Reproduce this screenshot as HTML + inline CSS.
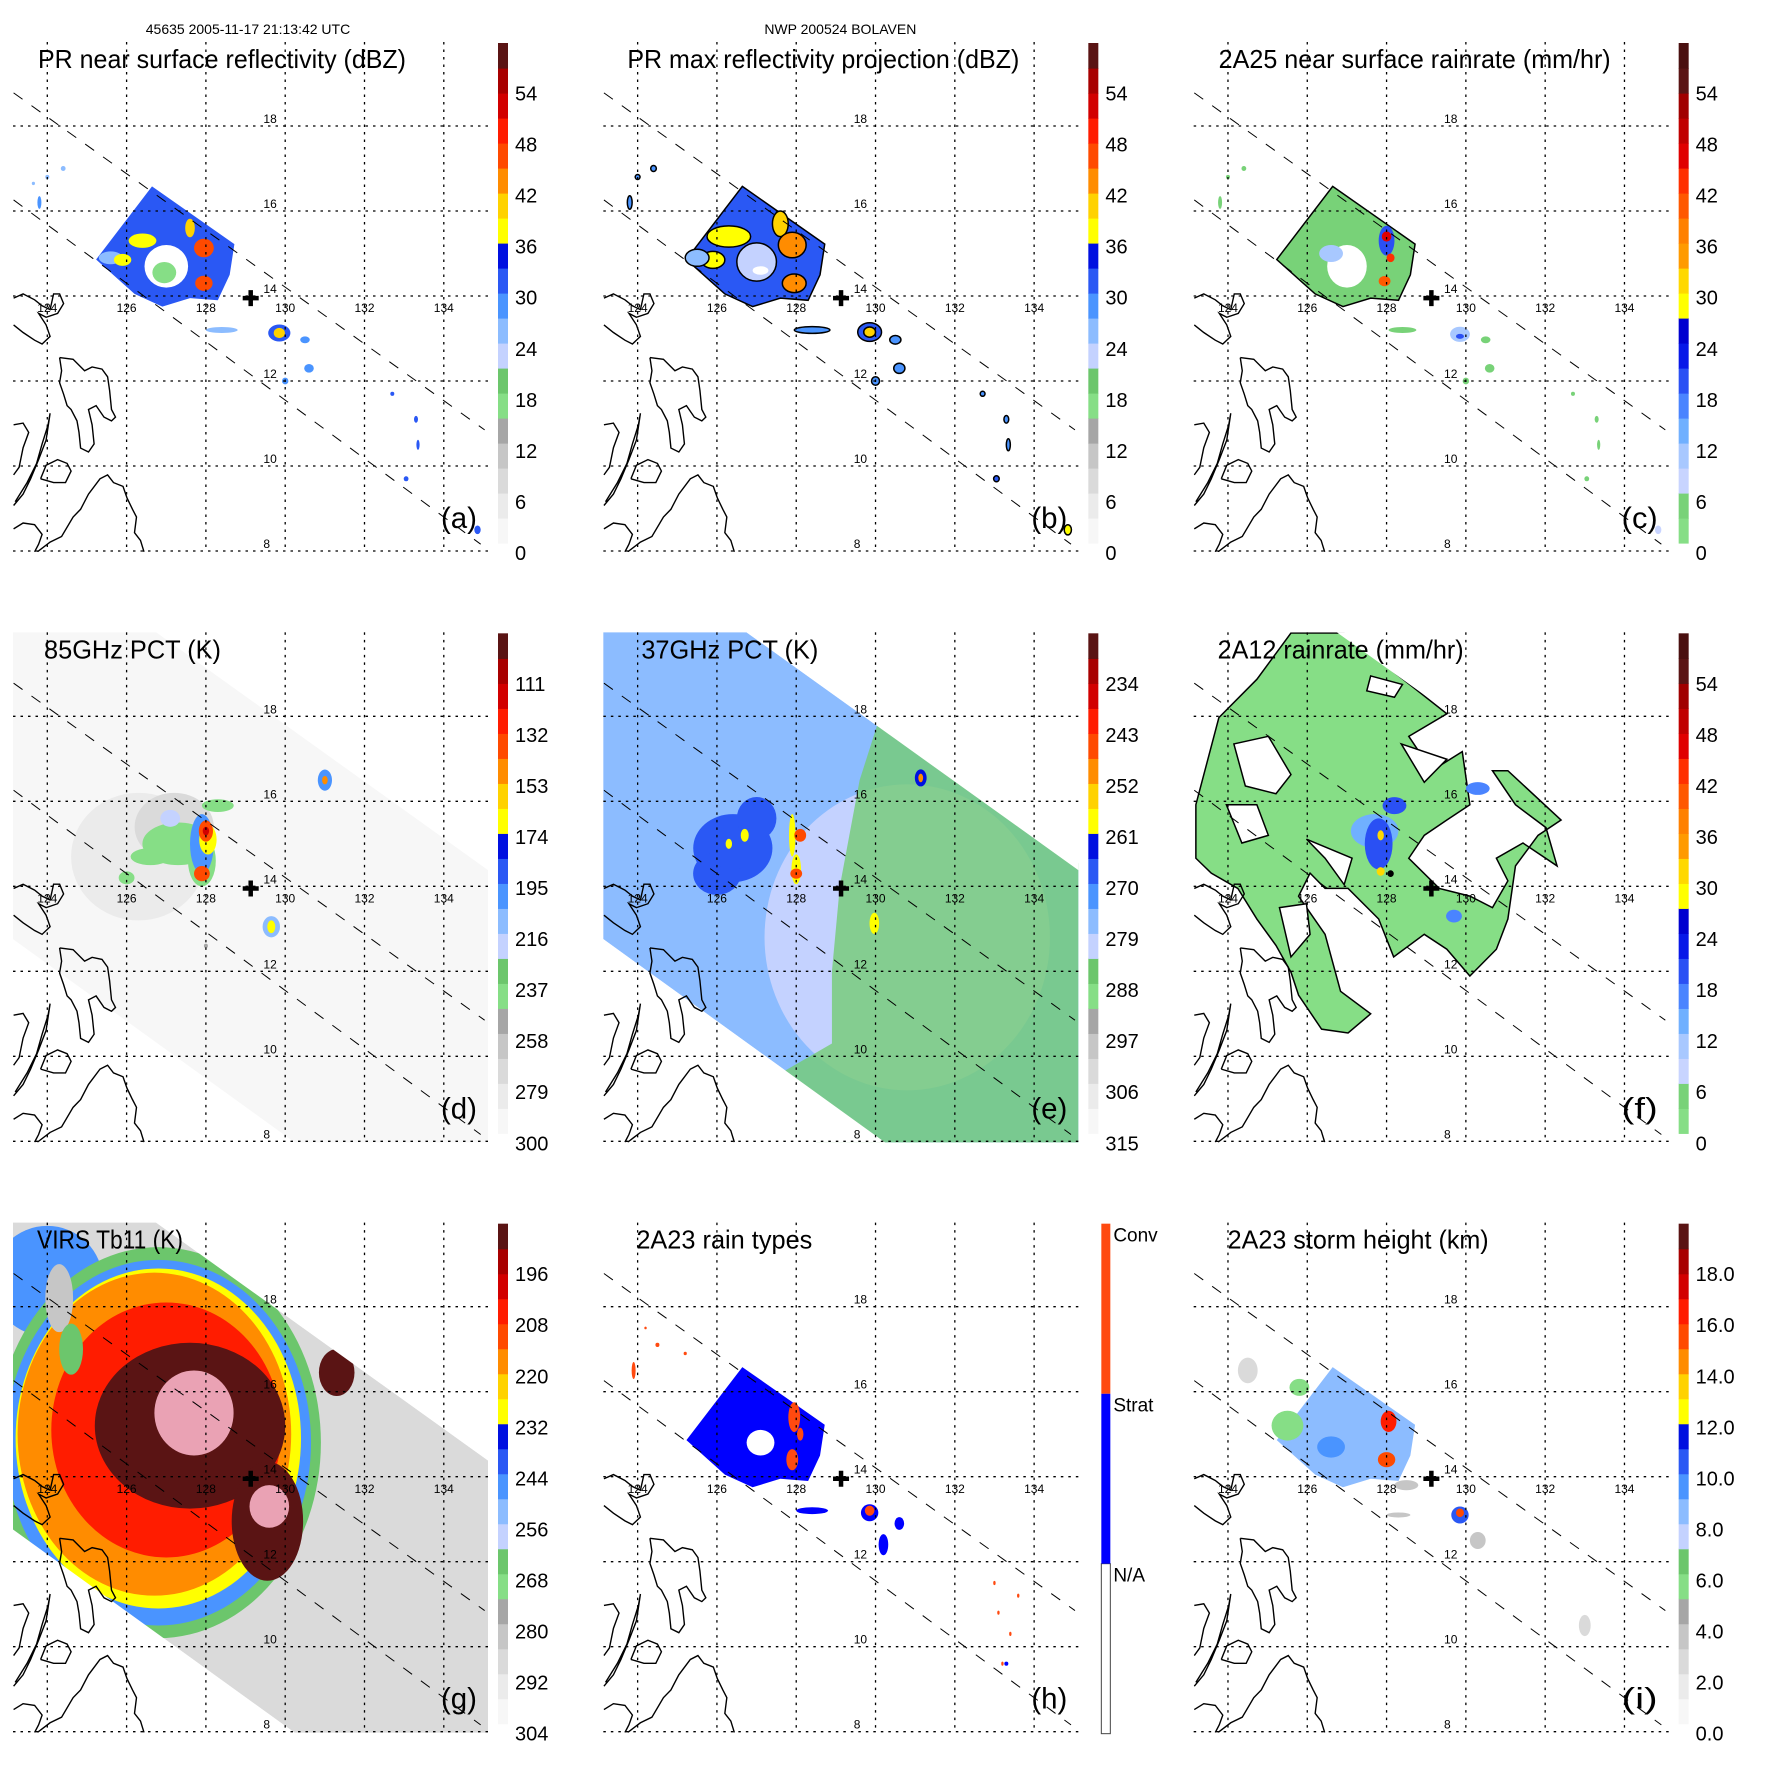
<!DOCTYPE html>
<html><head><meta charset="utf-8"><style>
html,body{margin:0;padding:0;background:#fff}
svg{display:block}
text{font-family:"Liberation Sans",sans-serif}
</style></head><body>
<svg id="fig" xmlns="http://www.w3.org/2000/svg" width="1771" height="1771" viewBox="0 0 1771 1771">
<rect width="1771" height="1771" fill="#fff"/>
</svg>
<script>
// ---------- shared data ----------
const stdColors=["#f7f7f7","#ebebeb","#dadada","#c6c6c6","#a6a6a6","#86de86","#6cc66c","#c4d2ff","#8cbcff","#4a94ff","#2a58f4","#0010e0","#ffff00","#ffd200","#ff8c00","#ff4a00","#ff1c00","#d20000","#a80000","#5a1414"];
const rainColors=["#86de86","#78d278","#c8d4ff","#a8c8ff","#70b0ff","#4a84ff","#2a50f4","#0818e8","#0000d0","#ffff00","#ffd800","#ff9a00","#ff8000","#ff5800","#ff3000","#e00000","#c00000","#a00000","#5a1414","#4a1010"];
const lonTicks=[124,126,128,130,132,134];
const latTicks=[18,16,14,12,10,8];
const stripLon=[126.64,128.72,128.6,128.3,127.6,126.9,126.2,125.23];
const stripLat=[16.58,15.22,14.5,13.9,13.95,13.75,14.05,14.86];
const swathLon=[123.0,126.74,135.3,135.3,130.5,123.0];
const swathLat=[20.1,19.98,14.26,7.8,7.8,12.85];
const edgeLon=[[123.15,135.03],[123.15,134.93]];
const edgeLat=[[18.78,10.85],[16.26,8.16]];
const centerLon=129.13, centerLat=13.95;
const coastLon=[
[123.15,123.39,123.68,123.87,124.07,124.16,124.31,124.41,124.26,123.97,123.78,123.97,124.07,123.87,123.68,123.39,123.15],
[124.31,124.65,124.94,125.13,125.38,125.52,125.57,125.62,125.72,125.62,125.43,125.23,125.04,125.13,125.18,125.04,124.84,124.80,124.75,124.60,124.50,124.41,124.31,124.36,124.31],
[123.83,123.97,124.26,124.50,124.60,124.46,124.16,123.83],
[123.15,123.39,123.53,123.39,123.29,123.15],
[123.19,123.49,123.73,123.87,124.02,124.07,123.97,123.78,123.58,123.39,123.15],
[123.15,123.39,123.68,123.87,123.78,123.68],
[123.75,124.07,124.36,124.65,124.84,125.04,125.33,125.52,125.67,125.91,126.01,126.15,126.25,126.20,126.35,126.44]];
const coastLat=[
[13.95,14.05,13.91,13.77,13.68,14.05,14.05,13.82,13.59,13.50,13.59,13.32,13.05,12.87,12.96,13.14,13.32],
[12.55,12.51,12.24,12.33,12.28,12.10,11.78,11.33,11.15,11.06,11.15,11.42,11.33,10.97,10.52,10.33,10.42,10.79,11.06,11.33,11.42,11.69,11.96,12.24,12.55],
[9.70,10.02,10.15,10.06,9.88,9.61,9.61,9.70],
[10.97,11.01,10.79,10.43,9.97,9.79],
[9.16,9.61,10.06,10.52,10.97,11.24,10.61,10.15,9.70,9.34,9.07],
[8.52,8.66,8.62,8.39,8.16,7.98],
[7.98,8.21,8.34,8.80,8.98,9.34,9.70,9.79,9.61,9.52,9.25,8.98,8.80,8.43,8.25,7.98]];

// panel a: PR near-surface reflectivity (dBZ)
const aLon=[127.0,126.95,125.6,126.4,125.9,127.6,127.95,127.95,128.4,129.85,129.85,130.5,130.6,130.0,132.7,133.3,133.35,133.05,134.85,123.8,124.4,124.0,123.65];
const aLat=[14.7,14.55,14.9,15.3,14.85,15.6,15.13,14.3,13.2,13.13,13.13,12.97,12.3,12.0,11.7,11.1,10.5,9.7,8.5,16.2,17.0,16.8,16.65];
const aRx=[.55,.3,.3,.35,.22,.12,.25,.22,.4,.28,.14,.12,.12,.08,.05,.05,.04,.06,.08,.05,.06,.05,.04];
const aRy=[.5,.25,.15,.17,.14,.22,.22,.18,.07,.2,.12,.08,.1,.08,.05,.08,.12,.06,.1,.15,.06,.05,.04];
const aVal=[-1,16,24,37,37,41,47,46,26,31,41,28,28,27,30,30,30,31,32,28,24,24,24];
// panel b: PR max reflectivity (dBZ)
const bLon=[127.0,126.3,125.9,127.6,127.9,127.95,125.5,128.4,129.85,129.85,130.5,130.6,130.0,132.7,133.3,133.35,133.05,134.85,123.8,124.4,124.0,127.1];
const bLat=[14.8,15.4,14.85,15.7,15.2,14.3,14.9,13.2,13.15,13.15,12.97,12.3,12.0,11.7,11.1,10.5,9.7,8.5,16.2,17.0,16.8,14.6];
const bRx=[.5,.55,.3,.2,.35,.3,.3,.45,.3,.15,.14,.14,.1,.06,.06,.05,.07,.09,.06,.07,.06,.2];
const bRy=[.45,.25,.2,.3,.3,.22,.2,.08,.22,.12,.1,.12,.1,.06,.09,.14,.07,.12,.16,.07,.06,.1];
const bVal=[22,38,38,40,44,44,26,27,30,40,28,28,27,28,28,28,30,36,28,27,27,-1];
// panel c: 2A25 near surface rain rate (mm/hr)
const cLon=[127.0,126.6,128.0,128.0,128.1,127.95,128.4,129.85,129.85,130.5,130.6,130.0,132.7,133.3,133.35,133.05,134.85,123.8,124.4,124.0];
const cLat=[14.7,15.0,15.3,15.4,14.9,14.35,13.2,13.1,13.05,12.97,12.3,12.0,11.7,11.1,10.5,9.7,8.5,16.2,17.0,16.8];
const cRx=[.5,.3,.2,.12,.1,.15,.35,.25,.1,.12,.12,.08,.05,.05,.04,.06,.08,.05,.06,.05];
const cRy=[.5,.2,.35,.12,.1,.12,.07,.18,.06,.08,.1,.08,.05,.08,.12,.06,.1,.15,.06,.05];
const cVal=[-1,9,20,45,42,40,3,10,18,3,3,3,3,3,3,3,8,3,3,3];
// panel d: 85 GHz PCT (K)
const dLon=[126.3,127.2,127.3,127.9,128.3,126.6,126.0,127.9,127.1,128.05,128.0,127.9,128.0,131.0,131.0,129.65,129.65,128.0];
const dLat=[14.7,15.4,15.0,14.6,15.9,14.7,14.2,15.0,15.6,15.1,15.3,14.3,15.3,16.5,16.5,13.05,13.05,12.6];
const dRx=[1.7,1.0,.9,.35,.4,.5,.2,.3,.25,.22,.18,.2,.08,.18,.07,.22,.1,.05];
const dRy=[1.5,.8,.5,.6,.15,.2,.15,.7,.2,.35,.25,.18,.1,.25,.1,.25,.15,.05];
const dVal=[280,270,240,240,240,240,240,205,220,172,140,140,120,205,150,210,165,250];
// panel e: 37 GHz PCT (K)
const eLon=[130.8,126.4,127.0,126.0,126.4,127.9,128.0,126.7,126.3,128.1,128.0,129.97,131.14,131.14];
const eLat=[12.8,14.9,15.6,14.3,14.9,15.2,14.4,15.2,15.0,15.2,14.3,13.13,16.55,16.55];
const eRx=[3.6,1.0,.5,.6,.6,.08,.12,.1,.08,.15,.15,.12,.15,.06];
const eRy=[3.6,.8,.5,.5,.5,.5,.35,.15,.12,.15,.12,.25,.2,.1];
const eVal=[281,269,269,270,266,258,258,259,259,246,246,258,262,248];
const eGreenLon=[130.25,129.6,129.1,128.9,128.9,127.6,128.6,135.3,135.3];
const eGreenLat=[18.4,16.5,14.0,12.0,10.3,9.6,7.8,7.8,14.4];
// panel f: 2A12 rain rate (mm/hr)
const fLon=[123.19,123.77,124.73,125.59,126.93,129.52,128.56,129.14,129.91,130.10,129.52,128.95,128.56,129.33,130.10,130.67,131.06,130.77,131.44,132.30,132.02,131.25,130.67,131.06,132.40,131.82,131.25,131.06,130.77,130.10,129.52,128.95,128.18,127.80,127.03,126.45,126.07,125.78,126.45,126.84,127.60,127.03,126.36,125.78,125.59,125.21,124.73,124.25,123.58,123.19];
const fLat=[15.92,17.97,18.87,19.96,19.96,18.06,17.53,16.72,17.17,15.92,15.56,15.20,14.66,13.95,13.77,13.50,14.13,14.66,15.02,14.48,15.38,15.92,16.72,16.72,15.56,15.20,14.48,13.23,12.52,11.89,12.52,12.87,12.34,13.23,13.95,13.95,14.31,13.77,12.87,11.53,11.00,10.55,10.64,11.44,11.98,12.61,13.23,13.95,14.31,14.66];
const fHoleLon=[[124.15,125.02,125.59,125.21,124.44],[125.98,127.13,126.93,126.45],[128.37,129.52,128.95],[123.96,124.73,125.02,124.35],[125.30,125.98,126.07,125.59],[127.6,128.4,128.2,127.5]];
const fHoleLat=[[17.35,17.53,16.63,16.18,16.36],[15.11,14.66,14.04,14.66],[17.35,16.99,16.45],[15.92,15.92,15.20,15.02],[13.50,13.59,12.87,12.34],[18.95,18.75,18.45,18.6]];
const fLon2=[127.7,127.8,128.2,127.85,127.85,130.3,129.7,128.1];
const fLat2=[15.3,15.0,15.9,15.2,14.35,16.3,13.3,14.3];
const fRx=[.6,.35,.3,.08,.1,.3,.2,.08];
const fRy=[.4,.6,.2,.12,.1,.15,.15,.08];
const fVal=[12,20,20,31,31,15,15,99];
// panel g: VIRS Tb11 (K)
const gLon=[124.0,126.8,126.8,126.8,126.7,127.0,127.6,127.7,129.55,129.6,131.3,124.3,124.6];
const gLat=[18.6,14.8,14.8,14.9,15.0,15.1,15.2,15.5,12.95,13.3,16.45,18.2,17.0];
const gRx=[1.4,4.1,3.85,3.6,3.45,2.9,2.4,1.0,.9,.5,.45,.35,.3];
const gRy=[1.3,4.6,4.3,4.0,3.8,3.0,1.95,1.0,1.4,.5,.55,.8,.6];
const gVal=[250,266,248,231,220,205,190,150,190,150,190,285,268];
// panel h: 2A23 rain type (1 strat, 2 conv, 0 none)
const hLon=[127.1,127.95,127.9,128.1,128.4,129.85,129.85,123.9,124.5,124.2,125.2,133.0,133.1,133.4,133.6,133.2,133.3,130.2,130.6];
const hLat=[14.8,15.4,14.4,15.0,13.2,13.15,13.2,16.5,17.1,17.5,16.9,11.5,10.8,10.3,11.2,9.6,9.6,12.4,12.9];
const hRx=[.35,.15,.15,.08,.4,.22,.12,.05,.05,.03,.04,.03,.03,.03,.03,.03,.05,.12,.12];
const hRy=[.3,.35,.25,.15,.08,.2,.12,.2,.05,.03,.04,.05,.05,.05,.05,.05,.05,.25,.15];
const hVal=[0,2,2,2,1,1,2,2,2,2,2,2,2,2,2,2,1,1,1];
// panel i: 2A23 storm height (km)
const iLon=[124.5,128.5,128.3,130.3,125.5,125.8,126.6,128.05,128.0,129.85,129.85,133.0];
const iLat=[16.5,13.8,13.1,12.5,15.2,16.1,14.7,15.3,14.4,13.1,13.15,10.5];
const iRx=[.25,.3,.3,.2,.4,.25,.35,.2,.22,.22,.1,.15];
const iRy=[.3,.12,.06,.2,.35,.2,.25,.25,.18,.2,.1,.25];
const iVal=[2,3,3,3,5.8,5.8,9.8,16,15.5,10.5,15,2];

// colorbar tick labels
const dbzTicks=["0","6","12","18","24","30","36","42","48","54"];
const dTicks=["300","279","258","237","216","195","174","153","132","111"];
const eTicks=["315","306","297","288","279","270","261","252","243","234"];
const gTicks=["304","292","280","268","256","244","232","220","208","196"];
const iTicks=["0.0","2.0","4.0","6.0","8.0","10.0","12.0","14.0","16.0","18.0"];
const typeLabels=["N/A","Strat","Conv"];
const typeColors=["#ffffff","#0000ff","#ff4a10"];
</script>
<script>
const NS="http://www.w3.org/2000/svg";
const fig=document.getElementById('fig');
const CELL=1771/3;
const MX0=13,MX1=488,MY0=42,MY1=552;
function X(lon){return 47.3+(lon-124)*39.65;}
function Y(lat){return 126+(18-lat)*42.5;}
function el(tag,attrs,parent){const e=document.createElementNS(NS,tag);for(const k in attrs)e.setAttribute(k,attrs[k]);(parent||fig).appendChild(e);return e;}
function stdC(v){if(v>=60)return "#eaa2b4";let i=Math.floor(v/3);if(i<0)i=0;if(i>19)i=19;return stdColors[i];}
function rainC(v){if(v>=60)return "#000";let i=Math.floor(v/3);if(i<0)i=0;if(i>19)i=19;return rainColors[i];}
function pts(lons,lats){return lons.map((l,i)=>X(l).toFixed(1)+","+Y(lats[i]).toFixed(1)).join(" ");}

function panel(idx,title,tlen,tx,letter){
  const col=idx%3,row=Math.floor(idx/3);
  const g=el('g',{transform:`translate(${(col*CELL).toFixed(2)},${(row*CELL).toFixed(2)})`});
  
  
  const cp=el('clipPath',{id:'clip'+idx},g);
  el('rect',{x:MX0,y:MY0,width:MX1-MX0,height:MY1-MY0},cp);
  const map=el('g',{'clip-path':`url(#clip${idx})`},g);
  
  
  return {g,map,letter,title,tlen,tx};
}
function ell(parent,lon,lat,rx,ry,fill,stroke){
  const e=el('ellipse',{cx:X(lon).toFixed(1),cy:Y(lat).toFixed(1),rx:(rx*39.65).toFixed(1),ry:(ry*42.5).toFixed(1),fill:fill},parent);
  if(stroke){e.setAttribute('stroke',stroke);e.setAttribute('stroke-width','1.5');}
  
  
  return e;
}
function overlay(P,cross){
  const {g,map}=P;
  coastLon.forEach((cl,k)=>{
    const p=el('polyline',{points:pts(cl,coastLat[k]),fill:'none',stroke:'#000','stroke-width':'1.4'},map);
    
    
  });
  edgeLon.forEach((e,k)=>{
    const l=el('line',{x1:X(e[0]),y1:Y(edgeLat[k][0]),x2:X(e[1]),y2:Y(edgeLat[k][1]),stroke:'#000','stroke-width':'1','stroke-dasharray':'11,11'},map);
    
    
  });
  latTicks.forEach(lat=>{
    const l=el('line',{x1:MX0,x2:MX1,y1:Y(lat),y2:Y(lat),stroke:'#000','stroke-width':'1.3','stroke-dasharray':'2.5,5'},g);
    
    
    const t=el('text',{x:X(129.45),y:Y(lat)-3,'font-size':'12'},g);t.textContent=lat;
    
    
  });
  lonTicks.forEach(lon=>{
    const l=el('line',{x1:X(lon),x2:X(lon),y1:MY0,y2:MY1,stroke:'#000','stroke-width':'1.3','stroke-dasharray':'2.5,5'},g);
    
    
    const t=el('text',{x:X(lon),y:Y(13.62),'font-size':'12','text-anchor':'middle'},g);t.textContent=lon;
    
    
  });
  if(cross!==false){
    const cx=X(centerLon),cy=Y(centerLat);
    const c=el('path',{d:`M${cx-8},${cy}H${cx+8}M${cx},${cy-8}V${cy+8}`,stroke:'#000','stroke-width':'4.5'},g);
    
    
  }
  const t=el('text',{x:P.tx,y:68,'font-size':'26',textLength:P.tlen,lengthAdjust:'spacingAndGlyphs'},g);
  t.textContent=P.title;
  
  
  const L=el('text',{x:441,y:528,'font-size':'30',textLength:'36',lengthAdjust:'spacingAndGlyphs'},g);
  L.textContent='('+P.letter+')';
  
  
}
function colorbar(P,colors,ticks){
  const {g}=P;
  const top=43,bot=543,bx=498,bw=10,n=colors.length,h=(bot-top)/n;
  const cb=el('g',{},g);
  
  
  colors.forEach((c,i)=>{el('rect',{x:bx,y:(bot-(i+1)*h).toFixed(2),width:bw,height:(h+0.6).toFixed(2),fill:c},cb);});
  ticks.forEach((lab,i)=>{
    const v=i*6;
    const t=el('text',{x:515,y:(553-v*8.51+7).toFixed(1),'font-size':'20'},cb);
    t.textContent=lab;
    
    
  });
}
function ellipses(P,lons,lats,rxs,rys,vals,colorFn,stroke){
  lons.forEach((lon,i)=>{
    const v=vals[i];
    const fill=v<0?'#fff':colorFn(v);
    ell(P.map,lon,lats[i],rxs[i],rys[i],fill,stroke&&v>=0?stroke:null);
  });
}
function strip(P,fill,stroke){
  const p=el('polygon',{points:pts(stripLon,stripLat),fill:fill},P.map);
  if(stroke){p.setAttribute('stroke',stroke);p.setAttribute('stroke-width','1.5');}
  
  
}
function swath(P,fill){
  const p=el('polygon',{points:pts(swathLon,swathLat),fill:fill},P.map);
  
  
}
function mask(P){
  const m=el('path',{d:`M0,0H600V600H0Z M${pts(swathLon,swathLat).split(' ').join(' L')}Z`,fill:'#fff','fill-rule':'evenodd'},P.map);
  
  
}

let h1=el('text',{x:248,y:34,'font-size':'14','text-anchor':'middle'});h1.textContent='45635 2005-11-17 21:13:42 UTC';


let h2=el('text',{x:CELL+250,y:34,'font-size':'14','text-anchor':'middle'});h2.textContent='NWP 200524 BOLAVEN';



// (a)
let A=panel(0,'PR near surface reflectivity (dBZ)',368,38,'a');
strip(A,stdC(31));
ellipses(A,aLon,aLat,aRx,aRy,aVal,stdC);
overlay(A);colorbar(A,stdColors,dbzTicks);
// (b)
let B=panel(1,'PR max reflectivity projection (dBZ)',392,37,'b');
strip(B,stdC(31),'#000');
ellipses(B,bLon,bLat,bRx,bRy,bVal,stdC,'#000');
overlay(B);colorbar(B,stdColors,dbzTicks);
// (c)
let C=panel(2,'2A25 near surface rainrate (mm/hr)',392,38,'c');
strip(C,rainC(3),'#000');
ellipses(C,cLon,cLat,cRx,cRy,cVal,rainC,null);
overlay(C);colorbar(C,rainColors,dbzTicks);
// (d)
let D=panel(3,'85GHz PCT (K)',177,44,'d');
swath(D,stdC((300-291)/3.5));
ellipses(D,dLon,dLat,dRx,dRy,dVal.map(k=>(300-k)/3.5),stdC,null);
overlay(D);colorbar(D,stdColors,dTicks);
// (e)
let E=panel(4,'37GHz PCT (K)',177,51,'e');
swath(E,stdC((315-278)/1.5));
ellipses(E,eLon.slice(0,1),eLat.slice(0,1),eRx.slice(0,1),eRy.slice(0,1),eVal.slice(0,1).map(k=>(315-k)/1.5),stdC,null);
{const p=el('polygon',{points:pts(eGreenLon,eGreenLat),fill:'#74cc74','fill-opacity':'0.8'},E.map);

}
ellipses(E,eLon.slice(1),eLat.slice(1),eRx.slice(1),eRy.slice(1),eVal.slice(1).map(k=>(315-k)/1.5),stdC,null);
mask(E);
overlay(E);colorbar(E,stdColors,eTicks);
// (f)
let F=panel(5,'2A12 rainrate (mm/hr)',246,37,'f');
{const p=el('polygon',{points:pts(fLon,fLat),fill:rainC(2),stroke:'#000','stroke-width':'1.5'},F.map);

}
fHoleLon.forEach((hl,k)=>{const p=el('polygon',{points:pts(hl,fHoleLat[k]),fill:'#fff',stroke:'#000','stroke-width':'1.5'},F.map);

});
ellipses(F,fLon2,fLat2,fRx,fRy,fVal,rainC,null);
mask(F);
overlay(F);colorbar(F,rainColors,dbzTicks);
// (g)
let G=panel(6,'VIRS Tb11 (K)',146,37,'g');
swath(G,stdC((304-291)/2));
ellipses(G,gLon,gLat,gRx,gRy,gVal.map(k=>(304-k)/2),stdC,null);
mask(G);
overlay(G);colorbar(G,stdColors,gTicks);
// (h)
let H=panel(7,'2A23 rain types',176,46,'h');
strip(H,typeColors[1]);
ellipses(H,hLon,hLat,hRx,hRy,hVal,v=>typeColors[v],null);
overlay(H);
{const cb=el('g',{},H.g);


const top=43,bot=553,bx=511,bw=9,seg=(bot-top)/3;
typeColors.forEach((c,i)=>{el('rect',{x:bx,y:bot-(i+1)*seg,width:bw,height:seg,fill:c,stroke:i===0?'#444':'none','stroke-width':'1'},cb);});
typeLabels.forEach((lab,i)=>{const t=el('text',{x:523,y:bot-(i+1)*seg+18,'font-size':'19'},cb);t.textContent=lab;

});}
// (i)
let I=panel(8,'2A23 storm height (km)',261,47,'i');
strip(I,stdC(24));
ellipses(I,iLon,iLat,iRx,iRy,iVal.map(v=>v*3),stdC,null);
overlay(I);colorbar(I,stdColors,iTicks);
</script>
</body></html>
